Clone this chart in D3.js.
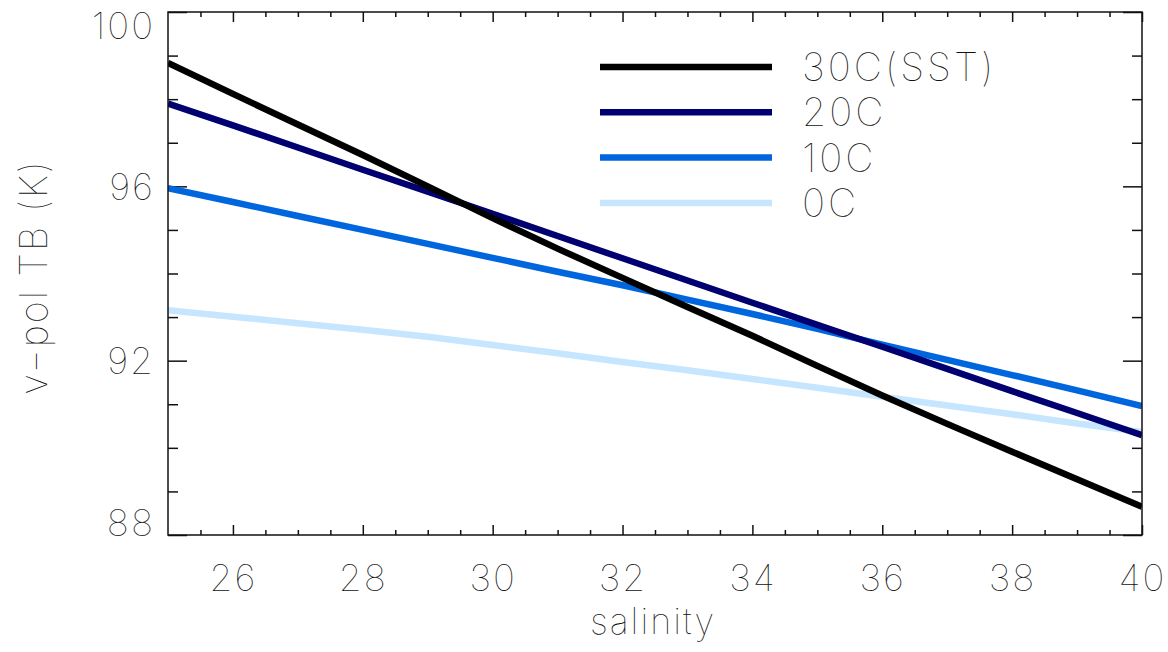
<!DOCTYPE html>
<html>
<head>
<meta charset="utf-8">
<script src="https://cdn.jsdelivr.net/npm/d3@7"></script>
<style>
  body { margin: 0; background: #fff; }
  svg text { font-family: Inter, "DejaVu Sans", sans-serif; font-weight: 100; fill: #111; }
</style>
</head>
<body>
<svg id="chart"></svg>
<script>
// salinity grid and TB values
var salinity = [25, 26, 27, 28, 29, 30, 31, 32, 33, 34, 35, 36, 37, 38, 39, 40];
var tb30 = [98.83, 98.12, 97.42, 96.72, 96.00, 95.27, 94.57, 93.90, 93.23, 92.57, 91.88, 91.20, 90.55, 89.91, 89.28, 88.65];
var tb20 = [97.90, 97.40, 96.89, 96.38, 95.88, 95.37, 94.86, 94.35, 93.84, 93.33, 92.82, 92.32, 91.81, 91.30, 90.80, 90.29];
var tb10 = [95.96, 95.64, 95.32, 95.00, 94.68, 94.36, 94.04, 93.73, 93.40, 93.07, 92.73, 92.37, 92.02, 91.67, 91.32, 90.96];
var tb0  = [93.16, 93.01, 92.86, 92.71, 92.55, 92.36, 92.17, 91.97, 91.78, 91.58, 91.38, 91.17, 90.97, 90.77, 90.56, 90.36];

var seriesNames = ["30C(SST)", "20C", "10C", "0C"];
var seriesColors = ["#000000", "#000070", "#0066dd", "#c6e6ff"];
var seriesValues = [tb30, tb20, tb10, tb0];

var xTicks = [26, 28, 30, 32, 34, 36, 38, 40];
var yTicks = [88, 92, 96, 100];

var W = 1168, H = 652;
var margin = { top: 12, right: 26, bottom: 117, left: 168 },
    width = W - margin.left - margin.right,
    height = H - margin.top - margin.bottom;

var svg = d3.select("#chart").attr("width", W).attr("height", H);
var g = svg.append("g").attr("transform", "translate(" + margin.left + "," + margin.top + ")");

var x = d3.scaleLinear().domain([25, 40]).range([0, width]);
var y = d3.scaleLinear().domain([88, 100]).range([height, 0]);

// tick lengths like IDL: fraction of the opposite dimension
var xMajor = 10, xMinor = 5, yMajor = 19, yMinor = 10;
var xMinorTicks = d3.range(25.5, 40, 0.5).filter(function (v) { return xTicks.indexOf(v) < 0; });
var yMinorTicks = d3.range(89, 100, 1).filter(function (v) { return yTicks.indexOf(v) < 0; });

function noDomain(a) { a.select(".domain").remove(); }

// bottom axis
g.append("g")
    .attr("transform", "translate(0," + height + ")")
    .call(d3.axisBottom(x).tickValues(xMinorTicks).tickSize(-xMinor).tickFormat(""))
    .call(noDomain);
g.append("g")
    .attr("class", "xmajor")
    .attr("transform", "translate(0," + height + ")")
    .call(d3.axisBottom(x).tickValues(xTicks).tickSize(-xMajor).tickPadding(30).tickFormat(d3.format("d")))
    .call(noDomain);
// top axis
g.append("g")
    .call(d3.axisTop(x).tickValues(xMinorTicks).tickSize(-xMinor).tickFormat(""))
    .call(noDomain);
g.append("g")
    .call(d3.axisTop(x).tickValues(xTicks).tickSize(-xMajor).tickFormat(""))
    .call(noDomain);
// left axis
g.append("g")
    .call(d3.axisLeft(y).tickValues(yMinorTicks).tickSize(-yMinor).tickFormat(""))
    .call(noDomain);
g.append("g")
    .attr("class", "ymajor")
    .call(d3.axisLeft(y).tickValues(yTicks).tickSize(-yMajor).tickPadding(13).tickFormat(d3.format("d")))
    .call(noDomain);
// right axis
g.append("g")
    .attr("transform", "translate(" + width + ",0)")
    .call(d3.axisRight(y).tickValues(yMinorTicks).tickSize(-yMinor).tickFormat(""))
    .call(noDomain);
g.append("g")
    .attr("transform", "translate(" + width + ",0)")
    .call(d3.axisRight(y).tickValues(yTicks).tickSize(-yMajor).tickFormat(""))
    .call(noDomain);

g.selectAll(".tick line").attr("stroke", "#111").attr("stroke-width", 1.5);
g.selectAll(".xmajor text").style("font-size", "37px").style("letter-spacing", "2px");
g.selectAll(".ymajor text")
    .style("font-size", "37px").style("letter-spacing", "2px")
    .attr("dy", function (d) { return d === 100 ? "0.72em" : (d === 88 ? "0.02em" : "0.36em"); });

// series
g.append("clipPath").attr("id", "plotclip")
    .append("rect").attr("width", width).attr("height", height);

var line = d3.line()
    .x(function (d, i) { return x(salinity[i]); })
    .y(function (d) { return y(d); });

// draw light lines first so the dark ones sit on top
d3.range(seriesValues.length).reverse().forEach(function (idx) {
    g.append("path")
        .datum(seriesValues[idx])
        .attr("clip-path", "url(#plotclip)")
        .attr("fill", "none")
        .attr("stroke", seriesColors[idx])
        .attr("stroke-width", 6.5)
        .attr("stroke-linejoin", "round")
        .attr("d", line);
});

// frame
g.append("rect")
    .attr("width", width).attr("height", height)
    .attr("fill", "none").attr("stroke", "#111").attr("stroke-width", 1.5);

// legend
var legend = g.append("g").attr("transform", "translate(432,55)");
seriesNames.forEach(function (name, i) {
    var row = legend.append("g").attr("transform", "translate(0," + (i * 45.3) + ")");
    row.append("line")
        .attr("x1", 0).attr("x2", 172)
        .attr("stroke", seriesColors[i]).attr("stroke-width", 6.5);
    row.append("text")
        .attr("x", 202).attr("y", 0).attr("dy", "0.36em")
        .style("font-size", "39px").style("letter-spacing", "3px")
        .text(name);
});

// axis titles
svg.append("text")
    .attr("x", margin.left + width / 2 - 2).attr("y", 634)
    .attr("text-anchor", "middle")
    .style("font-size", "36px").style("letter-spacing", "2px")
    .text("salinity");
svg.append("text")
    .attr("transform", "translate(47,277) rotate(-90)")
    .attr("text-anchor", "middle")
    .style("font-size", "38px").style("letter-spacing", "2px")
    .text("v\u2212pol TB (K)");
</script>
</body>
</html>
